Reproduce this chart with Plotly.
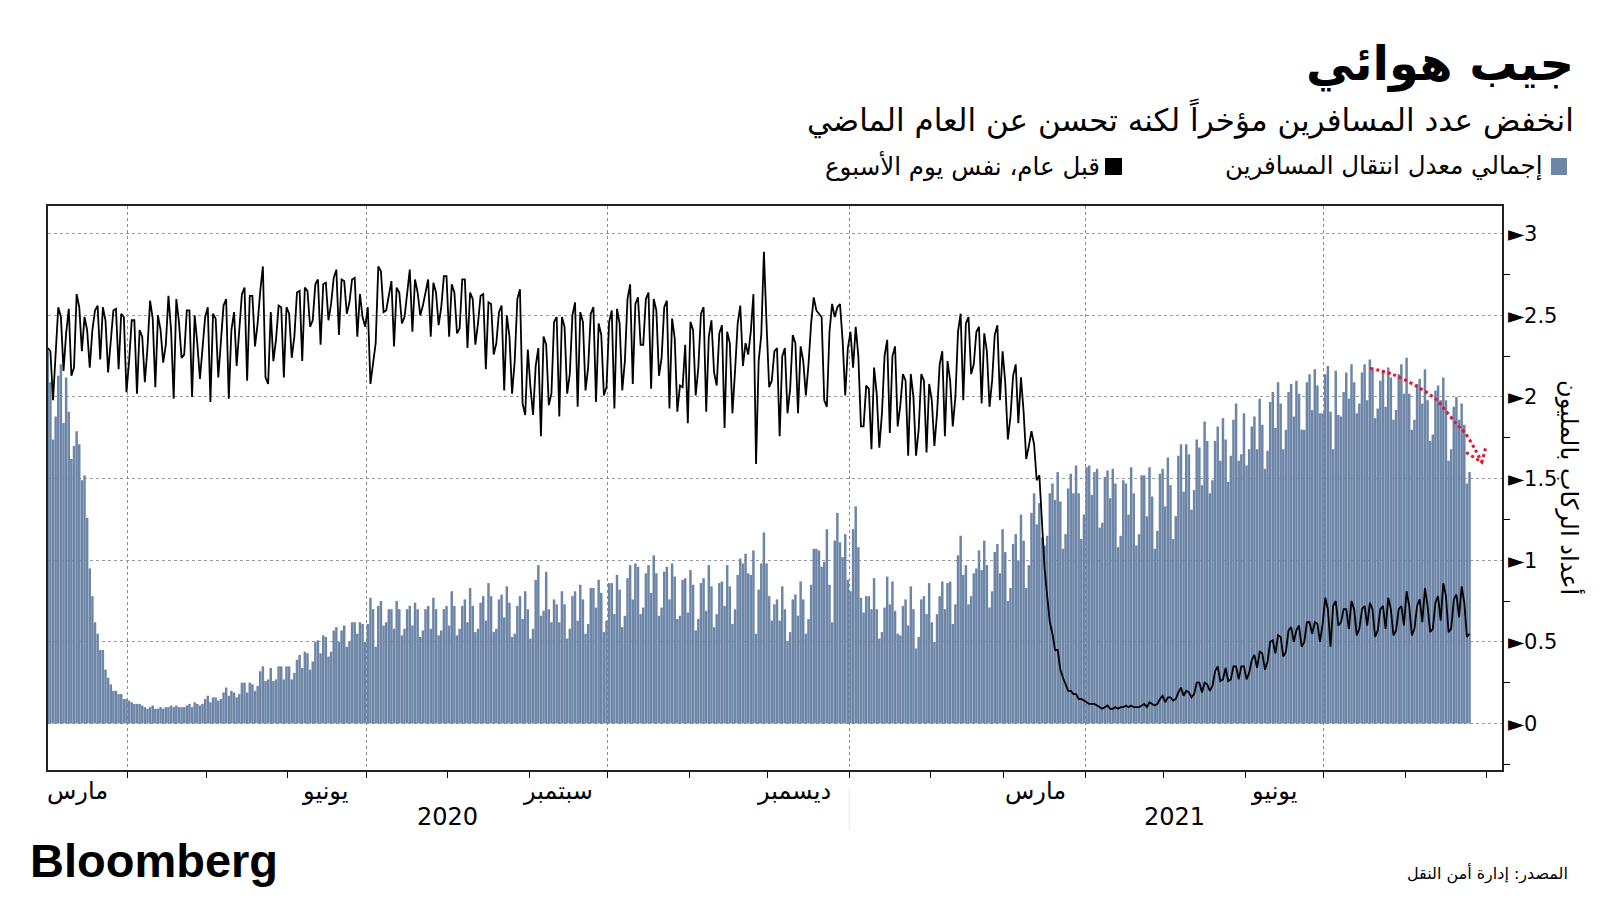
import plotly.graph_objects as go
import pandas as pd

# TSA-Durchsatz in Millionen, eine Zeile = eine Woche (So..Sa), ab So 1.3.2020
travelers_2020 = [
    2.28, 2.09, 1.74, 1.88, 2.13, 2.20, 1.84,
    2.12, 1.91, 1.62, 1.70, 1.79, 1.71, 1.49,
    1.52, 1.26, 0.95, 0.78, 0.62, 0.55, 0.45,
    0.45, 0.33, 0.28, 0.24, 0.20, 0.20, 0.18,
    0.18, 0.15, 0.15, 0.14, 0.13, 0.12, 0.12,
    0.12, 0.11, 0.10, 0.09, 0.10, 0.11, 0.09,
    0.09, 0.10, 0.09, 0.10, 0.10, 0.11, 0.10,
    0.11, 0.10, 0.10, 0.10, 0.11, 0.12, 0.10,
    0.13, 0.12, 0.11, 0.12, 0.15, 0.17, 0.13,
    0.16, 0.16, 0.14, 0.15, 0.19, 0.22, 0.17,
    0.20, 0.19, 0.16, 0.18, 0.25, 0.25, 0.19,
    0.25, 0.24, 0.20, 0.23, 0.32, 0.35, 0.26,
    0.27, 0.34, 0.26, 0.27, 0.35, 0.35, 0.27,
    0.35, 0.35, 0.27, 0.31, 0.39, 0.42, 0.34,
    0.44, 0.43, 0.33, 0.38, 0.50, 0.51, 0.43,
    0.54, 0.53, 0.41, 0.44, 0.57, 0.59, 0.50,
    0.57, 0.60, 0.47, 0.50, 0.62, 0.62, 0.55,
    0.62, 0.61, 0.50, 0.61, 0.77, 0.70, 0.47,
    0.72, 0.75, 0.60, 0.62, 0.70, 0.70, 0.58,
    0.75, 0.70, 0.54, 0.58, 0.70, 0.72, 0.60,
    0.74, 0.70, 0.53, 0.57, 0.70, 0.72, 0.58,
    0.77, 0.70, 0.54, 0.57, 0.70, 0.72, 0.60,
    0.81, 0.72, 0.54, 0.58, 0.72, 0.76, 0.62,
    0.83, 0.72, 0.56, 0.58, 0.74, 0.78, 0.63,
    0.86, 0.78, 0.56, 0.58, 0.76, 0.79, 0.65,
    0.84, 0.74, 0.53, 0.55, 0.72, 0.78, 0.64,
    0.81, 0.70, 0.52, 0.58, 0.88, 0.97, 0.66,
    0.69, 0.93, 0.70, 0.62, 0.76, 0.73, 0.62,
    0.81, 0.73, 0.52, 0.58, 0.78, 0.81, 0.63,
    0.85, 0.76, 0.55, 0.61, 0.83, 0.83, 0.71,
    0.88, 0.80, 0.56, 0.63, 0.86, 0.86, 0.67,
    0.91, 0.82, 0.59, 0.66, 0.89, 0.97, 0.76,
    0.98, 0.96, 0.67, 0.71, 0.92, 0.97, 0.80,
    1.03, 0.92, 0.66, 0.71, 0.93, 0.96, 0.76,
    0.98, 0.90, 0.64, 0.66, 0.88, 0.89, 0.68,
    0.94, 0.85, 0.57, 0.64, 0.86, 0.89, 0.69,
    0.97, 0.84, 0.59, 0.67, 0.86, 0.87, 0.72,
    0.97, 0.84, 0.61, 0.70, 0.91, 1.01, 0.98,
    1.04, 0.92, 0.91, 1.06, 0.55, 0.82, 0.98,
    1.17, 0.98, 0.78, 0.63, 0.73, 0.76, 0.63,
    0.84, 0.70, 0.50, 0.56, 0.76, 0.79, 0.66,
    0.87, 0.76, 0.55, 0.64, 0.85, 1.07, 1.07,
    1.06, 0.96, 0.99, 1.19, 0.85, 0.62, 1.12,
    1.29, 1.11, 1.02, 1.16, 0.88, 0.81, 1.19,
    1.33, 1.08, 0.77, 0.68, 0.78, 0.78, 0.70,
    0.89, 0.70, 0.52, 0.56, 0.71, 0.90, 0.73,
    0.87, 0.69, 0.55, 0.54, 0.72, 0.76, 0.60,
    0.84, 0.70, 0.46, 0.53, 0.76, 0.78, 0.67,
    0.86, 0.62, 0.50, 0.67, 0.78, 0.87, 0.70,
    0.86, 0.87, 0.61, 0.73, 1.03, 1.15, 0.91,
    0.97, 0.73, 0.78, 0.92, 0.95, 1.06, 0.94,
    1.12, 0.97, 0.71, 0.81, 1.05, 1.10, 0.92,
]

# ab So 28.2.2021 bis Mi 25.8.2021
travelers_2021 = [
    1.19, 1.05, 0.75, 0.83, 1.10, 1.16, 1.00,
    1.28, 1.12, 0.83, 0.97, 1.29, 1.41, 1.22,
    1.35, 1.14, 1.09, 1.15, 1.41, 1.47, 1.37,
    1.54, 1.36, 1.07, 1.16, 1.44, 1.53, 1.41,
    1.58, 1.41, 1.13, 1.28, 1.57, 1.58, 1.40,
    1.54, 1.56, 1.20, 1.23, 1.51, 1.55, 1.38,
    1.56, 1.47, 1.08, 1.15, 1.49, 1.47, 1.28,
    1.57, 1.41, 1.09, 1.16, 1.52, 1.52, 1.27,
    1.57, 1.39, 1.07, 1.18, 1.53, 1.56, 1.33,
    1.63, 1.46, 1.13, 1.27, 1.64, 1.71, 1.42,
    1.71, 1.65, 1.31, 1.43, 1.74, 1.69, 1.46,
    1.85, 1.73, 1.41, 1.49, 1.73, 1.82, 1.61,
    1.87, 1.74, 1.48, 1.64, 1.86, 1.96, 1.61,
    1.65, 1.90, 1.58, 1.68, 1.82, 1.88, 1.68,
    1.99, 1.83, 1.56, 1.67, 1.97, 2.03, 1.81,
    2.09, 1.96, 1.68, 1.80, 2.03, 2.08, 1.88,
    2.10, 2.02, 1.80, 1.80, 2.09, 2.14, 1.92,
    2.17, 2.07, 1.90, 1.90, 2.14, 2.19, 1.91,
    1.68, 2.16, 1.89, 1.88, 2.03, 2.15, 1.99,
    2.20, 2.09, 1.90, 1.96, 2.15, 2.20, 1.98,
    2.23, 2.17, 1.87, 1.93, 2.10, 2.16, 1.94,
    2.18, 2.12, 1.86, 1.92, 2.14, 2.20, 2.02,
    2.24, 2.02, 1.80, 1.86, 2.08, 2.11, 1.96,
    2.17, 1.98, 1.73, 1.77, 2.04, 2.07, 1.98,
    2.12, 1.98, 1.61, 1.68, 1.94, 2.00, 1.86,
    1.96, 1.83, 1.47, 1.54,
]

# gleicher Wochentag ein Jahr vorher (2019er Werte), So 1.3.2020 .. Sa 27.2.2021
year_ago_2019 = [
    2.30, 2.28, 1.98, 2.29, 2.55, 2.49, 2.16,
    2.39, 2.54, 2.13, 2.18, 2.63, 2.55, 2.28,
    2.49, 2.41, 2.18, 2.41, 2.53, 2.56, 2.23,
    2.55, 2.47, 2.15, 2.35, 2.53, 2.54, 2.17,
    2.51, 2.49, 2.03, 2.22, 2.47, 2.47, 2.02,
    2.41, 2.37, 2.09, 2.30, 2.59, 2.48, 2.06,
    2.50, 2.41, 2.21, 2.32, 2.62, 2.41, 1.99,
    2.60, 2.46, 2.24, 2.26, 2.53, 2.53, 2.00,
    2.50, 2.33, 2.11, 2.30, 2.49, 2.55, 1.97,
    2.51, 2.48, 2.12, 2.35, 2.56, 2.60, 1.99,
    2.41, 2.52, 2.19, 2.42, 2.63, 2.67, 2.10,
    2.62, 2.62, 2.31, 2.45, 2.65, 2.80, 2.12,
    2.08, 2.52, 2.22, 2.35, 2.56, 2.55, 2.12,
    2.55, 2.51, 2.24, 2.37, 2.64, 2.65, 2.22,
    2.67, 2.65, 2.43, 2.47, 2.69, 2.72, 2.32,
    2.69, 2.70, 2.47, 2.57, 2.73, 2.78, 2.38,
    2.72, 2.71, 2.51, 2.58, 2.72, 2.73, 2.37,
    2.63, 2.49, 2.43, 2.55, 2.08, 2.20, 2.33,
    2.80, 2.77, 2.52, 2.53, 2.62, 2.71, 2.31,
    2.67, 2.64, 2.45, 2.49, 2.65, 2.78, 2.40,
    2.72, 2.64, 2.50, 2.56, 2.65, 2.72, 2.37,
    2.70, 2.64, 2.44, 2.55, 2.74, 2.74, 2.37,
    2.69, 2.64, 2.39, 2.42, 2.72, 2.72, 2.30,
    2.64, 2.60, 2.32, 2.45, 2.62, 2.63, 2.17,
    2.58, 2.57, 2.26, 2.33, 2.52, 2.56, 2.04,
    2.50, 2.37, 2.02, 2.22, 2.60, 2.66, 1.96,
    1.89, 2.29, 2.06, 1.89, 2.19, 2.30, 1.76,
    2.37, 2.32, 1.95, 2.02, 2.46, 2.49, 1.88,
    2.49, 2.43, 2.02, 2.14, 2.50, 2.58, 1.94,
    2.52, 2.46, 2.04, 2.18, 2.51, 2.55, 1.97,
    2.45, 2.38, 2.01, 2.06, 2.46, 2.53, 1.93,
    2.54, 2.45, 2.04, 2.22, 2.60, 2.69, 2.08,
    2.57, 2.61, 2.32, 2.32, 2.60, 2.64, 2.05,
    2.60, 2.53, 2.13, 2.24, 2.55, 2.59, 1.93,
    2.48, 2.36, 1.91, 2.07, 2.06, 2.32, 1.84,
    2.46, 2.41, 2.01, 2.18, 2.51, 2.55, 1.91,
    2.37, 2.47, 2.15, 2.07, 2.39, 2.44, 1.81,
    2.40, 2.33, 1.90, 2.16, 2.45, 2.56, 2.19,
    2.33, 2.26, 2.40, 2.63, 1.59, 2.22, 2.38,
    2.89, 2.45, 2.06, 2.10, 2.28, 2.30, 1.76,
    2.25, 2.30, 1.90, 2.05, 2.38, 2.33, 1.90,
    2.31, 2.22, 2.01, 2.20, 2.45, 2.61, 2.53,
    2.51, 2.49, 1.98, 1.94, 2.40, 2.57, 2.49,
    2.55, 2.57, 2.35, 2.01, 2.30, 2.40, 2.18,
    2.43, 2.25, 1.82, 1.82, 2.07, 2.05, 1.68,
    2.18, 2.02, 1.69, 1.90, 2.25, 2.35, 1.78,
    2.25, 2.31, 1.82, 1.95, 2.14, 2.10, 1.64,
    2.14, 2.00, 1.64, 1.80, 2.14, 2.10, 1.66,
    2.08, 1.98, 1.70, 1.90, 2.20, 2.28, 1.76,
    2.22, 2.10, 1.82, 2.00, 2.40, 2.51, 1.98,
    2.45, 2.49, 2.14, 2.20, 2.40, 2.43, 1.96,
    2.39, 2.28, 1.94, 2.10, 2.38, 2.44, 1.98,
]

# roter Pfeil (Trend Ende Juli/August 2021)
arrow_dates = ["2021-07-18 14:00", "2021-07-27 00:00", "2021-08-05 22:00", "2021-08-12 10:00",
               "2021-08-16 05:00", "2021-08-20 19:00", "2021-08-23 19:00", "2021-08-27 14:00",
               "2021-08-30 05:00"]
arrow_vals = [2.175, 2.14, 2.06, 1.99, 1.92, 1.83, 1.78, 1.68, 1.60]
head_dates = ["2021-08-24 05:00", "2021-08-30 05:00", "2021-08-31 19:00"]
head_vals = [1.66, 1.60, 1.70]

month_labels = ["مارس", "يونيو", "سبتمبر", "ديسمبر", "مارس", "يونيو"]
month_label_dates = ["2020-03-13", "2020-06-15", "2020-09-12", "2020-12-11", "2021-03-13", "2021-06-12"]
year_labels = ["2020", "2021"]
year_label_dates = ["2020-08-01", "2021-05-05"]
grid_dates = ["2020-04-01", "2020-07-01", "2020-10-01", "2021-01-01", "2021-04-01", "2021-07-01"]
y_ticks = [0, 0.5, 1, 1.5, 2, 2.5, 3]

bars = travelers_2020 + travelers_2021
dates = pd.date_range("2020-03-01 12:00", periods=len(bars), freq="D")
# ab 28.2.2021 ist "vor einem Jahr" einfach 2020
year_ago = year_ago_2019 + travelers_2020[:len(bars) - len(year_ago_2019)]

BAR_COLOR = "#6D86A8"
FONT = "DejaVu Sans"

# Seite hat 8px Body-Rand -> Figur um 8px verschoben
# Bildschirm-Pixel -> Papierkoordinaten (Plotflaeche 48..1502 x 206..770 auf dem Bildschirm)
def px(x):
    return (x - 48) / 1454

def py(y):
    return (770 - y) / 564

fig = go.Figure()
fig.add_trace(go.Bar(x=dates, y=bars, marker=dict(color=BAR_COLOR, line=dict(width=0)),
                     name="إجمالي معدل انتقال المسافرين"))
fig.add_trace(go.Scatter(x=dates, y=year_ago, mode="lines", line=dict(color="black", width=1.8),
                         name="قبل عام، نفس يوم الأسبوع"))
fig.add_trace(go.Scatter(x=arrow_dates, y=arrow_vals, mode="lines",
                         line=dict(color="#E3142D", width=3, dash="dot", shape="spline")))
fig.add_trace(go.Scatter(x=head_dates, y=head_vals, mode="lines",
                         line=dict(color="#E3142D", width=3, dash="dot")))

fig.update_layout(
    width=1600, height=900,
    margin=dict(l=40, r=106, t=198, b=138),
    plot_bgcolor="white", paper_bgcolor="white",
    showlegend=False, bargap=0.05,
    font=dict(family=FONT, size=20, color="black"),
)

fig.update_xaxes(
    type="date",
    range=["2020-03-01 14:00", "2021-09-06 21:00"],
    tickmode="array", tickvals=grid_dates, showticklabels=False,
    ticks="outside", ticklen=6, tickcolor="black",
    showgrid=True, gridcolor="#8a8a8a", griddash="dot", gridwidth=1,
    minor=dict(tickmode="array", tickvals=list(pd.date_range("2020-04-01", "2021-09-01", freq="MS")),
               ticks="outside", ticklen=6, tickcolor="black", showgrid=False),
    showline=True, linecolor="#222", linewidth=1.5, mirror=True,
    zeroline=False,
)
fig.update_yaxes(
    side="right",
    range=[-0.285, 3.17],
    tickmode="array", tickvals=y_ticks,
    ticktext=["►" + (str(v) if v % 1 else str(int(v))) for v in y_ticks],
    ticks="", tickfont=dict(size=21, family=FONT),
    showgrid=True, gridcolor="#9a9a9a", griddash="dot", gridwidth=1,
    minor=dict(tickmode="array", tickvals=[-0.25, 0.25, 0.75, 1.25, 1.75, 2.25, 2.75],
               ticks="outside", ticklen=6, tickcolor="black", showgrid=False),
    showline=True, linecolor="#222", linewidth=1.5, mirror=True,
    zeroline=False,
)

ann = []
ann.append(dict(x=px(1576), y=py(63), text="<b>جيب هوائي</b>", xanchor="right", yanchor="middle",
                font=dict(size=48, family=FONT)))
ann.append(dict(x=px(1576), y=py(119), text="انخفض عدد المسافرين مؤخراً لكنه تحسن عن العام الماضي",
                xanchor="right", yanchor="middle", font=dict(size=31, family=FONT)))
ann.append(dict(x=px(1545), y=py(166), text="إجمالي معدل انتقال المسافرين", xanchor="right",
                yanchor="middle", font=dict(size=24.5, family=FONT)))
ann.append(dict(x=px(1102), y=py(166), text="قبل عام، نفس يوم الأسبوع", xanchor="right",
                yanchor="middle", font=dict(size=24.5, family=FONT)))
ann.append(dict(x=px(1570), y=py(487), text="أعداد الركاب بالمليون", textangle=90,
                xanchor="center", yanchor="middle", font=dict(size=24, family=FONT)))
for lab, d in zip(month_labels, month_label_dates):
    ann.append(dict(x=d, xref="x", y=py(791), text=lab, xanchor="center", yanchor="middle",
                    font=dict(size=24, family=FONT)))
for lab, d in zip(year_labels, year_label_dates):
    ann.append(dict(x=d, xref="x", y=py(817), text=lab, xanchor="center", yanchor="middle",
                    font=dict(size=24, family=FONT)))
ann.append(dict(x=px(28), y=py(860), text="<b>Bloomberg</b>", xanchor="left", yanchor="middle",
                font=dict(size=47, family="Liberation Sans")))
ann.append(dict(x=px(1570), y=py(873), text="المصدر: إدارة أمن النقل", xanchor="right",
                yanchor="middle", font=dict(size=16, family=FONT)))
for a in ann:
    a.setdefault("xref", "paper")
    a["yref"] = "paper"
    a["showarrow"] = False
fig.update_layout(annotations=ann)

# Legendenquadrate
fig.add_shape(type="rect", xref="paper", yref="paper", x0=px(1551), x1=px(1567), y0=py(175), y1=py(158),
              fillcolor=BAR_COLOR, line=dict(width=0))
fig.add_shape(type="rect", xref="paper", yref="paper", x0=px(1105), x1=px(1122), y0=py(175), y1=py(158),
              fillcolor="black", line=dict(width=0))
# feine Jahrestrennlinie unter der Achse
fig.add_shape(type="line", xref="x", yref="paper", x0="2021-01-01", x1="2021-01-01", y0=py(790), y1=py(830),
              line=dict(color="#e6e6e6", width=1))

fig.write_html("out.html")
